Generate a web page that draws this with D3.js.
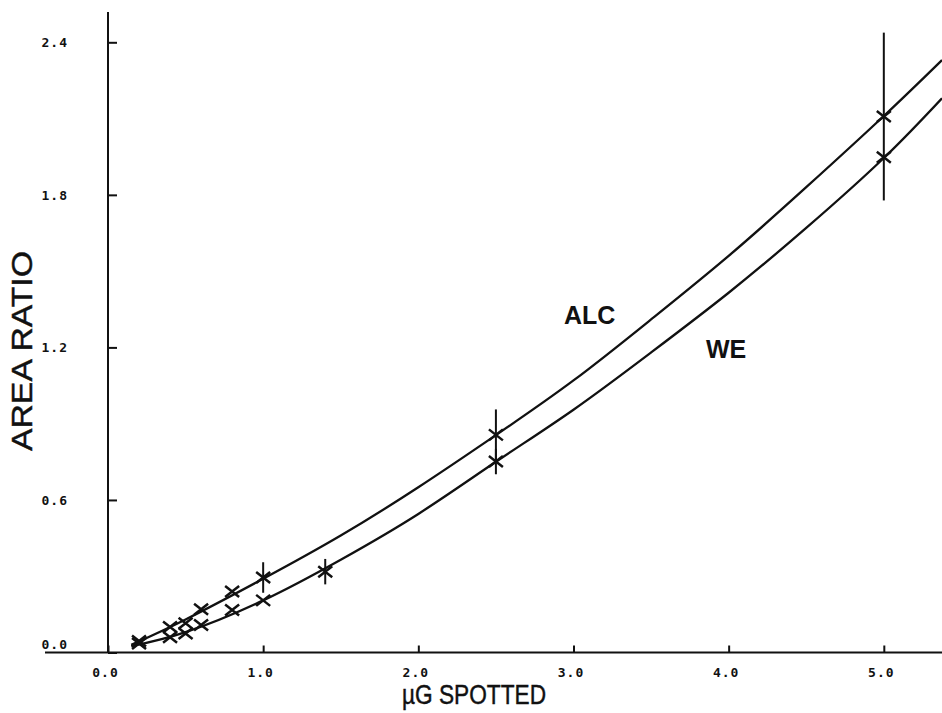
<!DOCTYPE html>
<html>
<head>
<meta charset="utf-8">
<script src="https://cdn.jsdelivr.net/npm/d3@7"></script>
<style>
  body { margin: 0; background: #fff; }
  svg { display: block; }
  .tick text { font-family: "DejaVu Sans Mono", monospace; font-weight: bold; font-size: 13px; fill: #111; letter-spacing: 1px; }
  .title { font-family: "Liberation Sans", Arial, sans-serif; fill: #111; stroke: #111; stroke-width: 0.45px; }
</style>
</head>
<body>
<div id="chart"></div>
<script>
// ALC points (x = ug spotted, y = area ratio)
const alcDose = [0.2, 0.4, 0.5, 0.6, 0.8, 1.0, 2.5, 5.0];
const alcRatio = [0.045, 0.10, 0.115, 0.17, 0.24, 0.295, 0.856, 2.108];
// WE points
const weDose = [0.2, 0.4, 0.5, 0.6, 0.8, 1.0, 1.4, 2.5, 5.0];
const weRatio = [0.035, 0.06, 0.075, 0.108, 0.167, 0.205, 0.318, 0.751, 1.948];

// error bars (half length)
const alcErrDose = [1.0, 2.5, 5.0];
const alcErr = [0.06, 0.10, 0.33];
const weErrDose = [1.4, 2.5];
const weErr = [0.05, 0.05];

// fitted curves
const curveDose = [0.15, 0.5, 1.0, 1.5, 2.0, 2.5, 3.0, 3.5, 4.0, 4.5, 5.0, 5.375];
const alcCurve = [0.03, 0.13, 0.29, 0.46, 0.65, 0.855, 1.07, 1.31, 1.56, 1.83, 2.11, 2.33];
const weCurve = [0.025, 0.08, 0.205, 0.365, 0.545, 0.75, 0.955, 1.18, 1.415, 1.67, 1.945, 2.18];

const xTicks = [0, 1, 2, 3, 4, 5];
const yTicks = [0, 0.6, 1.2, 1.8, 2.4];

const WIDTH = 942, HEIGHT = 713;

const svg = d3.select("#chart").append("svg")
  .attr("width", WIDTH)
  .attr("height", HEIGHT);

const x = d3.scaleLinear().domain([0, 5.375]).range([108, 942]);
const y = d3.scaleLinear().domain([0, 2.4]).range([652.5, 42.3]);

// axes
svg.append("g")
  .attr("transform", `translate(0, ${y(0)})`)
  .call(d3.axisBottom(x).tickValues(xTicks).tickFormat(d3.format(".1f"))
    .tickSizeInner(-7).tickSizeOuter(0).tickPadding(15))
  .call(g => g.select(".domain").remove())
  .call(g => g.selectAll(".tick line").attr("stroke", "#111").attr("stroke-width", 2))
  .call(g => g.selectAll(".tick text").attr("dx", "-3"));

svg.append("g")
  .attr("transform", `translate(${x(0)}, 0)`)
  .call(d3.axisLeft(y).tickValues(yTicks).tickFormat(d3.format(".1f"))
    .tickSizeInner(-9).tickSizeOuter(0).tickPadding(40))
  .call(g => g.select(".domain").remove())
  .call(g => g.selectAll(".tick line").attr("stroke", "#111").attr("stroke-width", 2))
  // the 0.0 label sits just above the x axis
  .call(g => g.selectAll(".tick text").filter(d => d === 0).attr("y", -8));

svg.append("line")
  .attr("x1", 45).attr("x2", WIDTH)
  .attr("y1", y(0)).attr("y2", y(0))
  .attr("stroke", "#111").attr("stroke-width", 2);

svg.append("line")
  .attr("x1", x(0)).attr("x2", x(0))
  .attr("y1", 12).attr("y2", y(0))
  .attr("stroke", "#111").attr("stroke-width", 2);

// curves
const line = d3.line()
  .x(d => x(d[0]))
  .y(d => y(d[1]))
  .curve(d3.curveNatural);

svg.append("path")
  .datum(d3.zip(curveDose, alcCurve))
  .attr("d", line)
  .attr("fill", "none").attr("stroke", "#111").attr("stroke-width", 2.3);

svg.append("path")
  .datum(d3.zip(curveDose, weCurve))
  .attr("d", line)
  .attr("fill", "none").attr("stroke", "#111").attr("stroke-width", 2.3);

// error bars
function drawErr(doses, errs, vals, valDose) {
  doses.forEach((d, i) => {
    const v = vals[valDose.indexOf(d)];
    svg.append("line")
      .attr("x1", x(d)).attr("x2", x(d))
      .attr("y1", y(v + errs[i])).attr("y2", y(v - errs[i]))
      .attr("stroke", "#111").attr("stroke-width", 2);
  });
}
drawErr(alcErrDose, alcErr, alcRatio, alcDose);
drawErr(weErrDose, weErr, weRatio, weDose);

// X markers
function drawMarks(doses, vals) {
  const hw = 7, hh = 5.5;
  svg.append("g").selectAll("path")
    .data(d3.zip(doses, vals))
    .join("path")
    .attr("d", d => {
      const cx = x(d[0]), cy = y(d[1]);
      return `M${cx - hw},${cy - hh}L${cx + hw},${cy + hh}M${cx - hw},${cy + hh}L${cx + hw},${cy - hh}`;
    })
    .attr("stroke", "#111").attr("stroke-width", 2.5).attr("fill", "none");
}
drawMarks(alcDose, alcRatio);
drawMarks(weDose, weRatio);

// labels
svg.append("text")
  .attr("x", 564).attr("y", 324)
  .style("font-family", "Liberation Sans, Arial, sans-serif")
  .style("font-weight", "bold")
  .style("font-size", "25px")
  .attr("fill", "#111")
  .text("ALC");

svg.append("text")
  .attr("x", 706).attr("y", 358)
  .style("font-family", "Liberation Sans, Arial, sans-serif")
  .style("font-weight", "bold")
  .style("font-size", "25px")
  .attr("fill", "#111")
  .text("WE");

svg.append("text")
  .attr("class", "title")
  .attr("transform", "translate(32, 351) rotate(-90)")
  .attr("text-anchor", "middle")
  .attr("textLength", 200)
  .attr("lengthAdjust", "spacingAndGlyphs")
  .style("font-size", "30px")
  .text("AREA RATIO");

svg.append("text")
  .attr("class", "title")
  .attr("x", 474).attr("y", 704)
  .attr("text-anchor", "middle")
  .attr("textLength", 144)
  .attr("lengthAdjust", "spacingAndGlyphs")
  .style("font-size", "28px")
  .text("µG SPOTTED");
</script>
</body>
</html>
